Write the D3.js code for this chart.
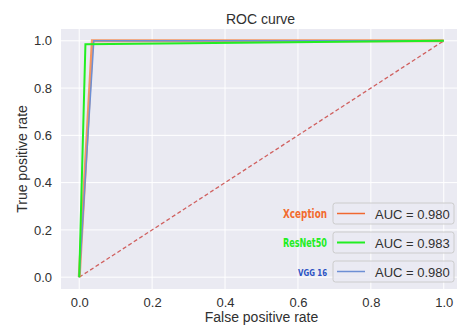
<!DOCTYPE html>
<html>
<head>
<meta charset="utf-8">
<title>ROC curve</title>
<script src="https://d3js.org/d3.v7.min.js"></script>
<style>
  body { margin: 0; background: #fff; }
  text { font-family: "Liberation Sans", Arial, sans-serif; fill: #303030; }
</style>
</head>
<body>
<div id="chart"></div>
<script>
// data
const xceptionFpr = [0, 0.036, 1];
const xceptionTpr = [0, 1.0, 1];
const resnetFpr = [0, 0.017, 1];
const resnetTpr = [0, 0.986, 1];
const vggFpr = [0, 0.040, 1];
const vggTpr = [0, 1.0, 1];
const chanceLine = [0, 1];
const modelNames = ["Xception", "ResNet50", "VGG 16"];
const aucLabels = ["AUC = 0.980", "AUC = 0.983", "AUC = 0.980"];
const tickValues = [0, 0.2, 0.4, 0.6, 0.8, 1.0];

const W = 457, H = 325;
const plot = {left: 61, top: 29, right: 462, bottom: 289};

const svg = d3.select("#chart").append("svg")
  .attr("width", W).attr("height", H);

const x = d3.scaleLinear().domain([-0.05, 1.05]).range([plot.left, plot.right]);
const y = d3.scaleLinear().domain([-0.05, 1.05]).range([plot.bottom, plot.top]);

svg.append("rect")
  .attr("x", plot.left).attr("y", plot.top)
  .attr("width", plot.right - plot.left).attr("height", plot.bottom - plot.top)
  .attr("fill", "#eaeaf2");

// grid
svg.append("g").selectAll("line").data(tickValues).join("line")
  .attr("x1", d => x(d)).attr("x2", d => x(d))
  .attr("y1", plot.top).attr("y2", plot.bottom)
  .attr("stroke", "#fff").attr("stroke-width", 1);
svg.append("g").selectAll("line").data(tickValues).join("line")
  .attr("y1", d => y(d)).attr("y2", d => y(d))
  .attr("x1", plot.left).attr("x2", plot.right)
  .attr("stroke", "#fff").attr("stroke-width", 1);

// axes (no tick marks, seaborn style)
const xAxis = d3.axisBottom(x).tickValues(tickValues).tickFormat(d3.format(".1f")).tickSize(0).tickPadding(9);
const yAxis = d3.axisLeft(y).tickValues(tickValues).tickFormat(d3.format(".1f")).tickSize(0).tickPadding(9);

svg.append("g").attr("transform", "translate(0," + plot.bottom + ")").call(xAxis)
  .call(g => g.select(".domain").remove())
  .selectAll("text").style("font-size", "13px").attr("fill", "#303030");
svg.append("g").attr("transform", "translate(" + plot.left + ",0)").call(yAxis)
  .call(g => g.select(".domain").remove())
  .selectAll("text").style("font-size", "13px").attr("fill", "#303030");

const line = d3.line().x(d => x(d[0])).y(d => y(d[1]));
const pts = (a, b) => a.map((v, i) => [v, b[i]]);

// chance line
svg.append("path")
  .attr("d", line(pts(chanceLine, chanceLine)))
  .attr("fill", "none").attr("stroke", "#d0605f").attr("stroke-width", 1.3)
  .attr("stroke-dasharray", "4,2.5");

svg.append("path").attr("d", line(pts(xceptionFpr, xceptionTpr)))
  .attr("fill", "none").attr("stroke", "#f4874a").attr("stroke-opacity", 0.85).attr("stroke-width", 3);
svg.append("path").attr("d", line(pts(vggFpr, vggTpr)))
  .attr("fill", "none").attr("stroke", "#6d8fd4").attr("stroke-width", 1.5);
svg.append("path").attr("d", line(pts(resnetFpr, resnetTpr)))
  .attr("fill", "none").attr("stroke", "#22ee22").attr("stroke-width", 2);

// legends: one small box per model, coloured name to the left
const legendColors = ["#f06830", "#22ee22", "#6d8fd4"];
const nameColors = ["#f26a2e", "#22ee22", "#2a52c4"];
const nameWidths = [44, 44, 29];
const boxTops = [203, 232, 261];
boxTops.forEach((top, i) => {
  const g = svg.append("g");
  g.append("rect").attr("x", 333).attr("y", top).attr("width", 121).attr("height", 21)
    .attr("rx", 2.5).attr("fill", "#eaeaf2").attr("fill-opacity", 0.8)
    .attr("stroke", "#cccccc").attr("stroke-width", 1);
  g.append("line").attr("x1", 337).attr("x2", 365).attr("y1", top + 10.5).attr("y2", top + 10.5)
    .attr("stroke", legendColors[i]).attr("stroke-width", i === 1 ? 2 : 1.5);
  g.append("text").attr("x", 375).attr("y", top + 15.5).style("font-size", "13px").text(aucLabels[i]);
  g.append("text").attr("x", 327 - nameWidths[i]).attr("y", top + 15)
    .attr("textLength", nameWidths[i]).attr("lengthAdjust", "spacingAndGlyphs")
    .style("font-family", "'DejaVu Sans', sans-serif")
    .style("font-weight", "bold")
    .style("font-size", i === 2 ? "9.5px" : "12px").style("fill", nameColors[i])
    .text(modelNames[i]);
});

// title and labels
svg.append("text").attr("x", (x(0) + x(1)) / 2 - 1).attr("y", 24).attr("text-anchor", "middle")
  .style("font-size", "14px").text("ROC curve");
svg.append("text").attr("x", (x(0) + x(1)) / 2).attr("y", 322).attr("text-anchor", "middle")
  .style("font-size", "14px").text("False positive rate");
svg.append("text").attr("transform", "translate(27," + ((plot.top + plot.bottom) / 2) + ") rotate(-90)")
  .attr("text-anchor", "middle").style("font-size", "14px").text("True positive rate");
</script>
</body>
</html>
